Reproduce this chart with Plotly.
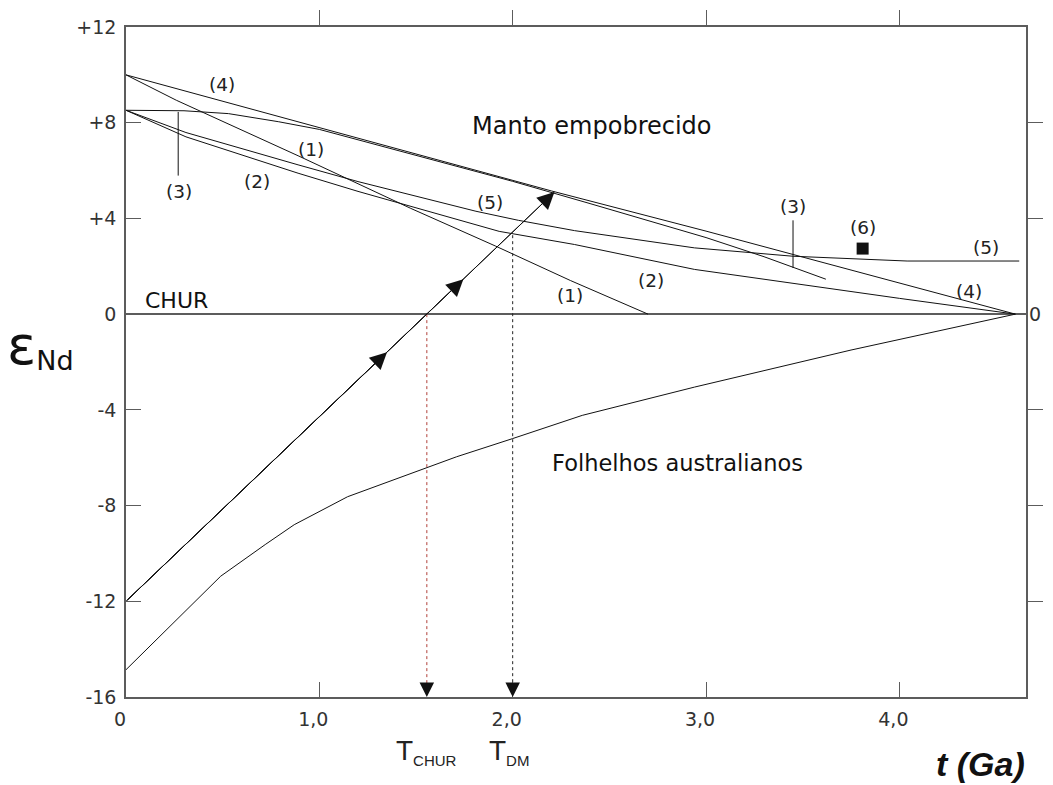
import plotly.graph_objects as go

# Nd isotopic evolution: epsilon-Nd versus age t (Ga)

# Depleted-mantle evolution models (1)-(5)
t_mod1 = [0, 0.26, 0.89, 1.2, 1.47, 1.91, 2.3, 2.7]
eps_mod1 = [10, 8.94, 6.62, 5.45, 4.43, 2.85, 1.4, 0]

t_mod2 = [0, 0.31, 0.89, 1.2, 1.93, 2.32, 2.94, 3.5, 4.0, 4.6]
eps_mod2 = [8.52, 7.41, 5.89, 5.13, 3.46, 2.91, 1.87, 1.22, 0.66, 0]

t_mod3 = [0, 0.3, 0.53, 0.79, 1.0, 1.5, 2.0, 2.4, 2.7, 3.0, 3.3, 3.62]
eps_mod3 = [8.52, 8.5, 8.38, 8.04, 7.72, 6.64, 5.55, 4.62, 3.90, 3.2, 2.4, 1.46]

t_mod4 = [0, 0.5, 1.2, 2.2, 3.0, 3.8, 4.6]
eps_mod4 = [10, 8.9, 7.37, 5.15, 3.47, 1.74, 0]

t_mod5 = [0, 0.31, 0.89, 1.2, 1.81, 2.03, 2.32, 2.94, 3.45, 4.04, 4.62]
eps_mod5 = [8.52, 7.59, 6.24, 5.54, 4.30, 3.92, 3.49, 2.77, 2.42, 2.22, 2.22]

# Point (6)
t_pt6 = [3.81]
eps_pt6 = [2.74]

# Australian shales (Folhelhos australianos)
t_shale = [0, 0.49, 0.72, 0.87, 1.146, 1.555, 1.71, 2.0, 2.36, 2.94, 3.75, 4.6]
eps_shale = [-14.86, -10.95, -9.63, -8.80, -7.63, -6.44, -5.96, -5.2, -4.23, -3.05, -1.5, 0]

# Sample evolution line and its direction arrows
t_sample = [0, 2.216]
eps_sample = [-12, 5.10]
t_sample_arrows = [1.35, 1.745, 2.216]
eps_sample_arrows = [-1.59, 1.46, 5.10]

# Model ages
t_chur = 1.556
t_dm = 2.0
eps_dm = 3.3

# Axis ticks
x_ticks = [0, 1, 2, 3, 4]
x_ticktext = ["0", "1,0", "2,0", "3,0", "4,0"]
y_ticks = [-16, -12, -8, -4, 0, 4, 8, 12]
y_ticktext = ["-16", "-12", "-8", "-4", "0", "+4", "+8", "+12"]
y_minor = [-12, -8, -4, 4, 8]

INK = "#111111"
FRAME = "#5c5c5c"
TICKFONT = dict(family="DejaVu Sans", size=19, color="#333333")
LABELFONT = dict(family="DejaVu Sans", size=18.5, color="#222222")

fig = go.Figure()
line = dict(color=INK, width=1)

for t, e in [(t_mod1, eps_mod1), (t_mod2, eps_mod2), (t_mod3, eps_mod3),
             (t_mod4, eps_mod4), (t_mod5, eps_mod5), (t_shale, eps_shale),
             (t_sample, eps_sample)]:
    fig.add_trace(go.Scatter(x=t, y=e, mode="lines", line=line,
                             hoverinfo="skip", showlegend=False))

# Model-age drop lines
fig.add_trace(go.Scatter(x=[t_chur, t_chur], y=[0, -16], mode="lines",
                         line=dict(color="#b0403a", width=1, dash="dot"),
                         hoverinfo="skip", showlegend=False))
fig.add_trace(go.Scatter(x=[t_dm, t_dm], y=[eps_dm, -16], mode="lines",
                         line=dict(color="#222222", width=1, dash="dot"),
                         hoverinfo="skip", showlegend=False))

# Point (6)
fig.add_trace(go.Scatter(x=t_pt6, y=eps_pt6, mode="markers",
                         marker=dict(symbol="square", size=12, color=INK),
                         hoverinfo="skip", showlegend=False))

# Leader lines for the (3) labels
fig.add_trace(go.Scatter(x=[0.27, 0.27], y=[8.45, 5.79], mode="lines", line=line,
                         hoverinfo="skip", showlegend=False))
fig.add_trace(go.Scatter(x=[3.45, 3.45], y=[3.92, 1.93], mode="lines", line=line,
                         hoverinfo="skip", showlegend=False))

# Invisible traces so the mirrored axes are drawn
fig.add_trace(go.Scatter(x=[0], y=[0], xaxis="x2", yaxis="y2", mode="markers",
                         marker=dict(opacity=0), hoverinfo="skip", showlegend=False))
fig.add_trace(go.Scatter(x=[0], y=[0], xaxis="x", yaxis="y3", mode="markers",
                         marker=dict(opacity=0), hoverinfo="skip", showlegend=False))

annotations = []

# Arrowheads along the sample line
for ta, ea in zip(t_sample_arrows, eps_sample_arrows):
    annotations.append(dict(x=ta, y=ea, ax=t_sample[0], ay=eps_sample[0],
                            xref="x", yref="y", axref="x", ayref="y", text="",
                            showarrow=True, arrowhead=2, arrowsize=3.4,
                            arrowwidth=1, arrowcolor=INK))

# Arrowheads at the model ages
for ta in (t_chur, t_dm):
    annotations.append(dict(x=ta, y=-16, ax=ta, ay=-15.4,
                            xref="x", yref="y", axref="x", ayref="y", text="",
                            showarrow=True, arrowhead=2, arrowsize=2.9,
                            arrowwidth=1, arrowcolor=INK))

# Curve labels
for txt, tx, ty in [("(4)", 0.496, 9.6), ("(1)", 0.957, 6.89), ("(3)", 0.276, 5.14),
                    ("(2)", 0.68, 5.55), ("(5)", 1.882, 4.65), ("(1)", 2.297, 0.76),
                    ("(2)", 2.715, 1.39), ("(3)", 3.45, 4.51), ("(6)", 3.814, 3.61),
                    ("(5)", 4.45, 2.78), ("(4)", 4.36, 0.94)]:
    annotations.append(dict(x=tx, y=ty, xref="x", yref="y", text=txt,
                            showarrow=False, font=LABELFONT))

annotations += [
    dict(x=0.26, y=0.55, xref="x", yref="y", text="CHUR", showarrow=False,
         font=dict(family="DejaVu Sans", size=22, color=INK)),
    dict(x=2.41, y=7.85, xref="x", yref="y", text="Manto empobrecido",
         showarrow=False, font=dict(family="DejaVu Sans", size=24, color=INK)),
    dict(x=2.854, y=-6.2, xref="x", yref="y", text="Folhelhos australianos",
         showarrow=False, font=dict(family="DejaVu Sans", size=22.5, color=INK)),
    # axis titles
    dict(x=-0.095, y=0.524, xref="paper", yref="paper",
         text="<span style='font-size:54px'>ε</span><sub><span style='font-size:27px'>Nd</span></sub>",
         xanchor="center", yanchor="middle", showarrow=False,
         font=dict(family="DejaVu Sans", size=30, color=INK)),
    dict(x=0.949, y=-0.0997, xref="paper", yref="paper", text="<b><i>t (Ga)</i></b>",
         xanchor="center", yanchor="middle", showarrow=False,
         font=dict(family="Liberation Sans", size=34, color=INK)),
    dict(x=t_chur, y=-0.082, xref="x", yref="paper",
         text="T<sub><span style='font-size:15px'>CHUR</span></sub>",
         xanchor="center", yanchor="middle", showarrow=False,
         font=dict(family="Liberation Sans", size=28, color="#222222")),
    dict(x=t_dm - 0.02, y=-0.082, xref="x", yref="paper",
         text="T<sub><span style='font-size:15px'>DM</span></sub>",
         xanchor="center", yanchor="middle", showarrow=False,
         font=dict(family="Liberation Sans", size=28, color="#222222")),
]

fig.update_layout(
    width=1053, height=785,
    margin=dict(l=126, r=17, t=25, b=88),
    paper_bgcolor="white", plot_bgcolor="white",
    showlegend=False,
    xaxis=dict(range=[0, 4.655], tickvals=x_ticks, ticktext=x_ticktext,
               ticks="inside", ticklen=15, tickwidth=1.3, tickcolor=FRAME,
               showline=True, linecolor=FRAME, linewidth=1.5,
               showgrid=False, zeroline=False, tickfont=TICKFONT,
               ticklabelshift=-6, ticklabelstandoff=4),
    xaxis2=dict(range=[0, 4.655], overlaying="x", side="top", anchor="y",
                tickvals=[1, 2, 3, 4], ticks="outside", ticklen=15, tickwidth=1.3,
                tickcolor=FRAME, showticklabels=False, showline=True,
                linecolor=FRAME, linewidth=1.5, showgrid=False, zeroline=False),
    yaxis=dict(range=[-16, 12], tickvals=y_ticks, ticktext=y_ticktext,
               ticks="inside", ticklen=15, tickwidth=1.3, tickcolor=FRAME,
               showline=True, linecolor=FRAME, linewidth=1.5,
               showgrid=False, zeroline=True, zerolinecolor=FRAME,
               zerolinewidth=1.5, tickfont=TICKFONT, ticklabelstandoff=4),
    yaxis2=dict(range=[-16, 12], overlaying="y", side="right", anchor="x",
                tickvals=y_minor, ticks="outside", ticklen=15, tickwidth=1.3,
                tickcolor=FRAME, showticklabels=False, showline=True,
                linecolor=FRAME, linewidth=1.5, showgrid=False, zeroline=False),
    yaxis3=dict(range=[-16, 12], overlaying="y", side="right", anchor="x",
                tickvals=[0], ticktext=["0"], ticks="", showline=False,
                showgrid=False, zeroline=False, tickfont=TICKFONT,
                ticklabelstandoff=2),
    annotations=annotations,
)

fig.write_html("out.html")
